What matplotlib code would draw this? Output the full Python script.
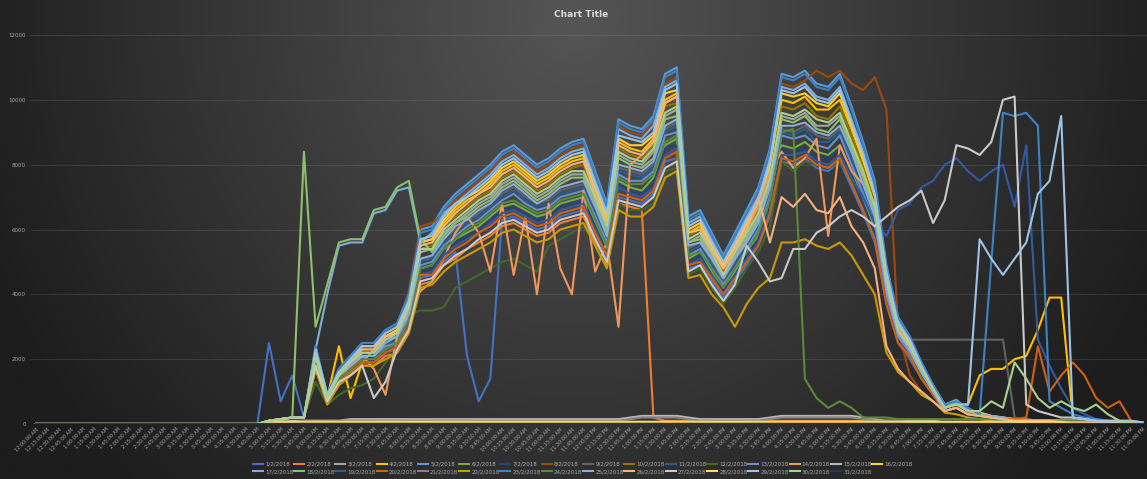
import matplotlib
matplotlib.use("Agg")
import matplotlib.pyplot as plt
import numpy as np

# 15 minute slots over one day
times = []
for h in range(24):
    for m in (0, 15, 30, 45):
        times.append(f"{h % 12 or 12}:{m:02d}:00 {'AM' if h < 12 else 'PM'}")

# all values below are in hundreds
tail_hi = [6, 7.5, 4.5, 3.5, 2.5, 2, 1.5, 1.5, 1, 1, 1, 1, 1, 1, 1, 0.5, 0.5, 0.5]
tail_mid = [5, 6.5, 4, 3, 2, 1.5, 1.5, 1, 1, 1, 1, 1, 1, 0.5, 0.5, 0.5, 0.5, 0.5]
tail_lo = [4, 5, 3, 2.5, 2, 1.5, 1, 1, 1, 1, 0.5, 0.5, 0.5, 0.5, 0.5, 0.5, 0.5, 0]
start = [0, 1, 1.5, 2, 2]

feb01 = [0] * 19 + [0, 25, 7, 15, 2] + [18, 7, 13, 16, 19, 19, 22, 23, 30, 45, 46, 50, 53, 21, 7, 14, 63, 64, 62, 60, 61, 64, 65, 66, 58, 51, 70, 69, 68, 71, 81, 82, 48, 49, 44, 39, 44, 49, 55, 64, 81, 80, 82, 79, 78, 81, 73, 65, 56, 37, 25, 20, 14, 9] + tail_lo
feb02 = [0] * 19 + start + [17, 7, 12, 15, 18, 18, 21, 22, 29, 43, 44, 49, 51, 54, 56, 58, 61, 62, 60, 58, 59, 62, 63, 64, 56, 49, 68, 67, 66] + [2] + [1] * 21 + [0.5] * 3 + [0.5] * 8 + [0] * 10
feb03 = [0] * 19 + start + [21, 8, 15, 18, 22, 22, 26, 27, 35, 53, 54, 59, 62, 65, 68, 70, 74, 76, 73, 70, 72, 75, 77, 77, 69, 60, 83, 81, 80, 84, 95, 97, 56, 58, 52, 46, 52, 58, 64, 75, 95, 94, 96, 92, 92, 95, 86, 77, 66, 43, 29, 24, 17, 11] + tail_mid
feb04 = [0] * 19 + start + [22, 8, 24, 8, 19, 23, 27, 29, 37, 56, 57, 62, 66, 69, 71, 74, 78, 80, 77, 74, 76, 79, 81, 82, 72, 63, 87, 85, 84, 88, 100, 102, 59, 61, 55, 48, 55, 61, 68, 79, 100, 99, 101, 97, 97, 100, 91, 81, 70, 45, 31, 25, 18, 11] + [5, 6, 6, 15, 17, 17, 20, 21, 29, 39, 39, 2, 1.5, 1, 1, 0.5, 0.5, 0]
feb05 = [0] * 19 + start + [24, 9, 17, 21, 25, 25, 29, 31, 40, 60, 61, 67, 71, 74, 77, 80, 84, 86, 83, 80, 82, 85, 87, 88, 78, 68, 94, 92, 91, 95, 108, 110, 64, 66, 59, 52, 59, 66, 73, 85, 108, 107, 109, 105, 104, 108, 98, 87, 75, 49, 33, 27, 19, 12] + tail_hi
feb06 = [0] * 19 + start + [19, 7, 14, 17, 20, 20, 23, 25, 32, 48, 49, 53, 57, 59, 61, 64, 67, 68, 66, 64, 65, 68, 69, 70, 62, 54, 75, 73, 72, 76, 86, 88, 51, 53, 47, 41, 47, 53, 58, 68, 86, 85, 87, 84, 83, 86, 78, 69, 60, 39, 26, 21, 15, 10] + tail_lo
feb07 = [0] * 19 + start + [19, 7, 13, 16, 20, 20, 23, 24, 31, 47, 48, 53, 56, 58, 60, 63, 66, 67, 65, 63, 64, 67, 68, 69, 61, 53, 74, 72, 71, 74, 85, 86, 50, 52, 46, 41, 46, 52, 57, 67, 85, 84, 85, 82, 82, 85, 77, 68, 59, 38, 26, 21, 15, 9] + tail_mid
feb08 = [0] * 19 + start + [23, 9, 17, 20, 24, 24, 28, 30, 41, 61, 62, 65, 69, 72, 75, 78, 82, 84, 81, 78, 80, 83, 85, 86, 76, 66, 92, 90, 89, 93, 105, 107, 62, 64, 58, 51, 58, 64, 71, 83, 105, 104, 106, 109, 107, 109, 105, 103, 107, 97, 29, 15, 10, 7] + [4, 5, 3, 2.5, 2, 1.5, 1, 1, 1, 1, 1, 0.5, 0.5, 0.5, 0.5, 0.5, 0.5, 0]
feb09 = [0] * 19 + start + [20, 8, 14, 18, 21, 21, 24, 26, 34, 51, 51, 57, 60, 62, 65, 68, 71, 73, 70, 68, 69, 72, 73, 74, 66, 57, 79, 78, 77, 80, 91, 93, 54, 56, 50, 44, 50, 56, 62, 72, 91, 90, 92, 89, 88, 91, 83, 73, 63, 41, 28, 26, 26, 26] + [26] * 6 + [2, 1, 1, 1, 1] + [0.5] * 6 + [0]
feb10 = [0] * 19 + start + [22, 8, 15, 19, 23, 23, 26, 28, 36, 54, 55, 61, 64, 67, 70, 72, 76, 78, 75, 72, 74, 77, 79, 80, 71, 61, 85, 83, 82, 86, 98, 99, 58, 60, 53, 47, 53, 60, 66, 77, 98, 97, 99, 95, 94, 98, 89, 79, 68, 44, 30, 24, 17, 11] + tail_mid
feb11 = [0] * 19 + start + [20, 7, 14, 17, 21, 21, 24, 26, 33, 50, 51, 56, 59, 62, 64, 67, 70, 72, 69, 67, 68, 71, 72, 73, 65, 57, 78, 77, 76, 79, 90, 92, 53, 55, 49, 43, 49, 55, 61, 71, 90, 89, 91, 87, 87, 90, 82, 72, 62, 41, 27, 22, 16, 10] + tail_lo
feb12 = [0] * 19 + start + [13, 6, 9, 11, 12, 14, 19, 23, 34, 35, 35, 36, 42, 44, 46, 48, 50, 51, 49, 47, 55, 57, 59, 61, 55, 50, 68, 66, 66, 68, 78, 79, 46, 48, 42, 37, 42, 48, 53, 61, 81, 78, 81, 80, 79, 81, 75, 66, 57, 42, 28, 22, 15, 10] + tail_lo
feb13 = [0] * 19 + start + [20, 7, 14, 17, 21, 21, 24, 25, 33, 49, 50, 55, 58, 61, 63, 66, 69, 71, 68, 66, 67, 70, 71, 72, 64, 56, 77, 75, 75, 78, 89, 90, 52, 54, 48, 43, 48, 54, 60, 70, 89, 88, 89, 86, 85, 89, 80, 71, 62, 40, 27, 22, 16, 10] + tail_mid
feb14 = [0] * 19 + start + [17, 7, 14, 18, 21, 17, 9, 27, 35, 41, 44, 51, 59, 64, 59, 47, 68, 46, 64, 40, 68, 48, 40, 72, 47, 56, 30, 80, 83, 87, 99, 101, 59, 60, 54, 48, 54, 60, 67, 78, 84, 79, 82, 88, 58, 86, 78, 74, 68, 44, 30, 25, 17, 11] + tail_mid
feb15 = [0] * 20 + [0.5, 0.5, 1, 1, 1, 1, 1] + [1.5] * 24 + [2, 2.5, 2.5, 2.5, 2.5, 2] + [1.5] * 6 + [2, 2.5, 2.5, 2.5, 2.5, 2.5, 2.5, 2.5, 2] + [1.5, 1, 1, 1, 1, 1] + [0.5] * 18
feb16 = [0] * 19 + start + [23, 8, 16, 20, 24, 24, 27, 29, 38, 56, 57, 63, 67, 70, 72, 75, 79, 81, 78, 75, 77, 80, 82, 83, 73, 64, 88, 86, 86, 89, 102, 103, 60, 62, 55, 49, 55, 62, 69, 80, 102, 101, 102, 99, 98, 102, 92, 82, 71, 46, 31, 25, 18, 11] + [6, 7, 4.5, 3.5, 2.5, 2, 1.5, 1, 1, 1, 1, 1, 1, 1, 0.5, 0.5, 0.5, 0.5]
feb17 = [0] * 19 + start + [23, 40, 55, 56, 56, 65, 66, 72, 73, 56, 59, 65, 68, 71, 74, 77, 81, 83, 80, 77, 79, 82, 84, 85, 75, 66, 91, 89, 88, 92, 104, 106, 62, 64, 57, 50, 57, 64, 70, 82, 104, 103, 105, 101, 100, 104, 94, 84, 72, 47, 32, 26, 18, 12] + [6, 7, 4.5, 3, 2.5, 2, 1.5, 1, 1, 1, 1, 1, 0.5, 0.5, 0.5, 0.5, 0.5, 0.5]
feb18 = [0] * 19 + [0, 1, 1, 2, 84] + [30, 43, 56, 57, 57, 66, 67, 73, 75, 57, 53, 58, 62, 64, 67, 69, 73, 75, 72, 69, 71, 74, 76, 76, 68, 59, 82, 80, 79, 82, 94, 95, 56, 57, 51, 45, 51, 57, 63, 74, 94, 93, 95, 91, 90, 94, 85, 76, 65, 43, 29, 23, 16, 10] + tail_mid
feb19 = [0] * 19 + start + [19, 7, 13, 16, 19, 19, 22, 24, 31, 46, 47, 52, 55, 57, 59, 62, 65, 66, 64, 62, 63, 66, 67, 68, 60, 52, 73, 71, 70, 73, 83, 85, 49, 51, 46, 40, 46, 51, 56, 66, 83, 83, 84, 81, 80, 83, 76, 70, 62, 58, 66, 68, 73, 75] + [80, 82, 78, 75, 78, 80, 67, 86, 26, 18, 11, 5, 3, 1.5, 1, 1, 0.5, 0.5]
feb20 = [0] * 19 + start + [18, 7, 13, 16, 19, 19, 22, 24, 30, 46, 46, 51, 54, 56, 59, 61, 64, 65, 63, 61, 62, 65, 66, 67, 59, 52, 71, 70, 69, 72, 82, 84, 49, 50, 45, 40, 45, 50, 55, 65, 82, 81, 83, 80, 79, 82, 74, 66, 57, 37, 25, 21, 14, 9] + [4, 5, 3, 2.5, 2, 1.5, 1.5, 2, 24, 10, 15, 19, 15, 8, 5, 7, 1, 0]
feb21 = [0] * 20 + [0.5, 0.5, 0.5, 1, 1, 1, 1] + [1] * 24 + [1.5, 2, 2, 2, 2, 1.5] + [1] * 6 + [1.5, 2, 2, 2, 2, 2, 2, 2, 1.5] + [1, 1, 1, 0.5, 0.5, 0.5] + [0.5] * 6 + [0] * 12
feb22 = [0] * 19 + start + [17, 6, 12, 15, 18, 18, 20, 22, 28, 42, 43, 47, 50, 52, 54, 56, 59, 60, 58, 56, 57, 60, 61, 62, 55, 48, 66, 64, 64, 67, 76, 78, 45, 46, 40, 36, 30, 37, 42, 45, 56, 56, 57, 55, 54, 56, 52, 46, 40, 22, 16, 13, 9, 7] + [3.5, 3, 2, 1.5, 1, 1, 1, 1, 1, 0.5, 0.5, 0.5, 0.5, 0.5, 0.5, 0.5, 0, 0]
feb23 = [0] * 19 + start + [24, 9, 17, 21, 25, 25, 29, 31, 40, 59, 60, 66, 70, 73, 76, 79, 83, 85, 82, 79, 81, 84, 86, 87, 77, 67, 93, 91, 90, 94, 107, 109, 63, 65, 58, 51, 58, 65, 72, 84, 107, 106, 108, 104, 103, 107, 97, 86, 74, 48, 33, 27, 19, 12] + [6, 7, 5, 3, 50, 96, 95, 96, 92, 7, 5, 3, 2, 1.5, 1, 1, 1, 0.5]
feb24 = [0] * 19 + start + [19, 7, 14, 17, 20, 20, 23, 25, 32, 48, 49, 54, 57, 60, 62, 65, 68, 69, 67, 65, 66, 69, 70, 71, 63, 55, 76, 74, 74, 77, 87, 89, 52, 53, 48, 42, 48, 53, 59, 69, 90, 91, 14, 8, 5, 7, 5, 2, 2, 2, 1.5, 1.5, 1.5, 1.5] + [1.5, 1.5, 1.5, 1.5, 1.5, 1, 1, 1, 1, 1, 1, 1, 1, 0.5, 0.5, 0.5, 0.5, 0.5]
feb25 = [0] * 19 + start + [21, 8, 15, 18, 21, 21, 25, 27, 34, 51, 52, 57, 61, 63, 66, 68, 72, 74, 71, 68, 70, 73, 74, 75, 67, 58, 80, 79, 78, 81, 92, 94, 55, 56, 51, 45, 51, 56, 62, 73, 92, 92, 93, 90, 89, 92, 84, 74, 64, 42, 28, 23, 16, 10] + tail_lo
feb26 = [0] * 19 + start + [22, 8, 16, 19, 23, 23, 27, 28, 37, 55, 56, 61, 65, 68, 71, 73, 77, 79, 76, 73, 75, 78, 80, 81, 71, 62, 86, 84, 83, 87, 99, 101, 59, 60, 54, 48, 54, 60, 70, 56, 70, 67, 71, 66, 65, 70, 61, 56, 48, 24, 17, 13, 10, 7] + tail_lo
feb27 = [0] * 19 + start + [18, 7, 13, 15, 18, 8, 13, 23, 29, 44, 45, 49, 52, 54, 57, 59, 62, 63, 61, 59, 60, 63, 64, 65, 57, 50, 69, 68, 67, 70, 79, 81, 47, 49, 43, 38, 43, 55, 50, 44, 45, 54, 54, 59, 61, 64, 66, 64, 61, 64, 67, 69, 72, 62] + [69, 86, 85, 83, 87, 100, 101, 6, 4, 3, 2, 2, 1.5, 1, 0.5, 0.5, 0, 0]
feb28 = [0] * 20 + [0.7] * 69 + [0] * 7
feb29 = [0] * 19 + start + [23, 9, 16, 20, 24, 24, 28, 30, 38, 57, 58, 64, 68, 70, 73, 76, 80, 82, 79, 76, 78, 81, 83, 84, 74, 65, 89, 88, 87, 90, 103, 105, 61, 63, 56, 50, 56, 63, 69, 81, 103, 102, 104, 100, 99, 103, 93, 83, 71, 47, 31, 26, 18, 11] + [5, 6, 6, 57, 51, 46, 51, 56, 71, 75, 95, 2, 1.5, 1, 1, 1, 1, 0.5]
feb30 = [0] * 19 + start + [21, 8, 15, 19, 22, 22, 26, 28, 36, 54, 54, 60, 63, 66, 69, 71, 75, 77, 74, 71, 73, 76, 78, 78, 70, 61, 84, 82, 81, 85, 96, 98, 57, 59, 53, 46, 53, 59, 65, 76, 96, 95, 97, 94, 93, 96, 87, 78, 67, 44, 29, 24, 17, 11] + [5, 6, 4, 4, 7, 5, 19, 14, 8, 5, 7, 5, 4, 6, 3, 1, 0, 0]
feb31 = [0] * 96

series = [feb01, feb02, feb03, feb04, feb05, feb06, feb07, feb08, feb09, feb10,
          feb11, feb12, feb13, feb14, feb15, feb16, feb17, feb18, feb19, feb20,
          feb21, feb22, feb23, feb24, feb25, feb26, feb27, feb28, feb29, feb30, feb31]
labels = [f"{d}/2/2018" for d in range(1, 32)]
colors = ["#4472C4", "#ED7D31", "#A5A5A5", "#FFC000", "#5B9BD5", "#70AD47",
          "#264478", "#9E480E", "#636363", "#997300", "#255E91", "#43682B",
          "#698ED0", "#F1975A", "#B7B7B7", "#FFCD33", "#7CAFDD", "#8CC168",
          "#335AA1", "#D26012", "#848484", "#CC9A00", "#3E82C4", "#5A8A39",
          "#8FAADC", "#F4B183", "#C9C9C9", "#FFD966", "#9DC3E6", "#A9D18E",
          "#203864"]

for s, lab in zip(series, labels):
    assert len(s) == 96, (lab, len(s))

W, H = 1147, 479
fig = plt.figure(figsize=(W / 100, H / 100), dpi=100)

# dark radial background like the excel style
bg = fig.add_axes([0, 0, 1, 1], zorder=0)
gx, gy = np.meshgrid(np.linspace(0, 1, 400), np.linspace(0, 1, 200))
r = np.clip(np.sqrt(((gx - 0.5) / 0.55) ** 2 + ((gy - 0.03) / 1.4) ** 2), 0, 1)
shade = (0x55 - r * (0x55 - 0x1d)) / 255.0
bg.imshow(np.dstack([shade] * 3), aspect="auto", extent=[0, 1, 1, 0])
bg.set_axis_off()

x0, dx = 36.0, 11.65
ax = fig.add_axes([(x0 - dx / 2) / W, 55 / H, 96 * dx / W, (424 - 35) / H], zorder=1)
ax.patch.set_alpha(0)

x = np.arange(96)
handles = []
for s, lab, c in zip(series, labels, colors):
    ln, = ax.plot(x, np.array(s) * 100, color=c, lw=1.5, solid_joinstyle="round",
                  label=lab)
    handles.append(ln)

ax.set_xlim(-0.5, 95.5)
ax.set_ylim(0, 12000)
ax.set_yticks(range(0, 12001, 2000))
ax.set_xticks(x)
ax.set_xticklabels(times, rotation=45, ha="right", rotation_mode="anchor",
                   fontsize=3.5, color="#a6a6a6")
ax.tick_params(axis="y", labelsize=4, labelcolor="#a6a6a6", length=0, pad=3)
ax.tick_params(axis="x", length=0, pad=2)
ax.grid(axis="y", color="white", alpha=0.1, lw=0.7)
ax.set_axisbelow(True)
for sp in ax.spines.values():
    sp.set_visible(False)

fig.text(0.507, 0.969, "Chart Title", ha="center", va="center", fontsize=6.5,
         fontweight="bold", color="#d9d9d9")

# legend: two rows, first row 1..16, second row 17..31
order = []
for j in range(16):
    order.append(j)
    if j + 16 < 31:
        order.append(j + 16)
leg = fig.legend([handles[k] for k in order], [labels[k] for k in order],
                 ncol=16, loc="center", bbox_to_anchor=(0.508, 0.023),
                 frameon=False, fontsize=4, handlelength=1.8, handletextpad=0.4,
                 columnspacing=0.15, labelspacing=0.5, labelcolor="#b0b0b0")

fig.savefig("out.png", dpi=100)
